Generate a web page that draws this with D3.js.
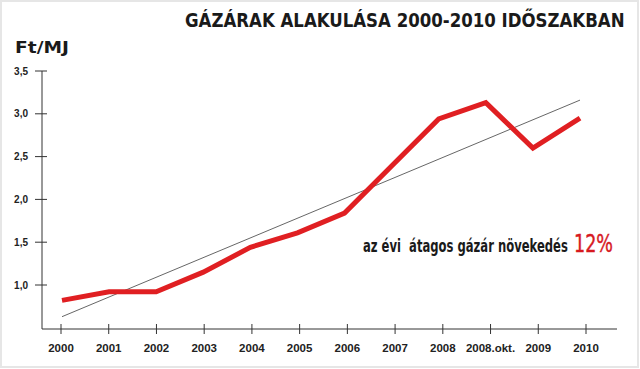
<!DOCTYPE html>
<html>
<head>
<meta charset="utf-8">
<script src="https://cdn.jsdelivr.net/npm/d3@7"></script>
<style>
  body { margin: 0; background: #fff; }
  svg { display: block; }
  .cond { font-family: "Liberation Sans Narrow", "DejaVu Sans Condensed", "Arial Narrow", sans-serif; }
  .tick-label { font-family: "Liberation Sans", Arial, sans-serif; font-weight: bold; font-size: 11.5px; fill: #222; }
</style>
</head>
<body>
<div id="chart"></div>
<script>
// DATA //
const years = ["2000", "2001", "2002", "2003", "2004", "2005", "2006", "2007", "2008", "2008.okt.", "2009", "2010"];
const prices = [0.82, 0.92, 0.92, 1.15, 1.44, 1.61, 1.84, 2.39, 2.94, 3.13, 2.60, 2.95];
const trendStart = 0.63;
const trendEnd = 3.16;
const yTicks = [1.0, 1.5, 2.0, 2.5, 3.0, 3.5];
const title = "GÁZÁRAK ALAKULÁSA 2000-2010 IDŐSZAKBAN";
const unitLabel = "Ft/MJ";
const noteText = "az évi  átagos gázár növekedés";
const noteValue = "12%";

// DIMENSIONS //
const dimensions = { width: 640, height: 369 };
const axisX = 42;      // y axis position
const axisY = 329;     // x axis position

const svg = d3
  .select("#chart")
  .append("svg")
  .attr("width", dimensions.width)
  .attr("height", dimensions.height);

// light frame round the picture
svg
  .append("rect")
  .attr("x", 1)
  .attr("y", 1)
  .attr("width", dimensions.width - 3)
  .attr("height", dimensions.height - 3)
  .attr("fill", "#fff")
  .attr("stroke", "#e6e6e6")
  .attr("stroke-width", 2);

// Function to squeeze a text horizontally to a given width (left edge at x)
function fitText(text, x, y, width) {
  const natural = text.node().getComputedTextLength();
  text.attr("transform", `translate(${x},${y}) scale(${width / natural},1)`);
}

// SCALES //
const y = d3.scaleLinear().domain([1, 3.5]).range([285, 71]);
// tick positions
const xTicks = d3.scalePoint().domain(years).range([61, 586]);
// the drawn line sits a bit left of the ticks at the right end
const xLine = d3.scalePoint().domain(years).range([62, 580]);

// AXES //
svg
  .append("line")
  .attr("x1", axisX)
  .attr("x2", axisX)
  .attr("y1", y(3.5))
  .attr("y2", axisY)
  .attr("stroke", "#333")
  .attr("stroke-width", 1);

svg
  .append("line")
  .attr("x1", axisX)
  .attr("x2", 617)
  .attr("y1", axisY)
  .attr("y2", axisY)
  .attr("stroke", "#333")
  .attr("stroke-width", 1);

// y ticks (cross the axis)
svg
  .selectAll(".ytick")
  .data(yTicks)
  .join("line")
  .attr("class", "ytick")
  .attr("x1", axisX - 7)
  .attr("x2", axisX + 5)
  .attr("y1", (d) => y(d))
  .attr("y2", (d) => y(d))
  .attr("stroke", "#333");

svg
  .selectAll(".ylabel")
  .data(yTicks)
  .join("text")
  .attr("class", "tick-label")
  .attr("x", 28)
  .attr("y", (d) => y(d) + 3.5)
  .attr("text-anchor", "end")
  .style("font-size", "10px")
  .text((d) => d3.format(".1f")(d).replace(".", ","));

// x ticks
svg
  .selectAll(".xtick")
  .data(years)
  .join("line")
  .attr("class", "xtick")
  .attr("x1", (d) => xTicks(d))
  .attr("x2", (d) => xTicks(d))
  .attr("y1", axisY - 5)
  .attr("y2", axisY + 5)
  .attr("stroke", "#333");

svg
  .selectAll(".xlabel")
  .data(years)
  .join("text")
  .attr("class", "tick-label")
  .attr("x", (d) => xTicks(d))
  .attr("y", 352)
  .attr("text-anchor", "middle")
  .text((d) => d);

// TREND LINE //
svg
  .append("line")
  .attr("x1", xLine(years[0]))
  .attr("y1", y(trendStart))
  .attr("x2", xLine(years[years.length - 1]))
  .attr("y2", y(trendEnd))
  .attr("stroke", "#555")
  .attr("stroke-width", 0.9);

// PRICE LINE //
const line = d3
  .line()
  .x((d, i) => xLine(years[i]))
  .y((d) => y(d));

svg
  .append("path")
  .datum(prices)
  .attr("d", line)
  .attr("fill", "none")
  .attr("stroke", "#e01f22")
  .attr("stroke-width", 5)
  .attr("stroke-linejoin", "miter");

// TEXTS //
const titleText = svg
  .append("text")
  .attr("class", "cond")
  .style("font-weight", "bold")
  .style("font-size", "20px")
  .style("fill", "#1a1a1a")
  .text(title);
fitText(titleText, 185, 27, 440);

const unitText = svg
  .append("text")
  .attr("class", "cond")
  .style("font-weight", "bold")
  .style("font-size", "15px")
  .style("fill", "#1a1a1a")
  .text(unitLabel);
fitText(unitText, 15, 53, 54);

const note = svg
  .append("text")
  .attr("class", "cond")
  .style("font-weight", "bold")
  .style("font-size", "17px")
  .style("fill", "#1a1a1a")
  .style("white-space", "pre")
  .text(noteText);
fitText(note, 363, 252, 205);

const noteVal = svg
  .append("text")
  .attr("class", "cond")
  .style("font-size", "24px")
  .style("fill", "#d7191f")
  .style("stroke", "#d7191f")
  .style("stroke-width", 0.4)
  .text(noteValue);
fitText(noteVal, 574, 252, 39);
</script>
</body>
</html>
